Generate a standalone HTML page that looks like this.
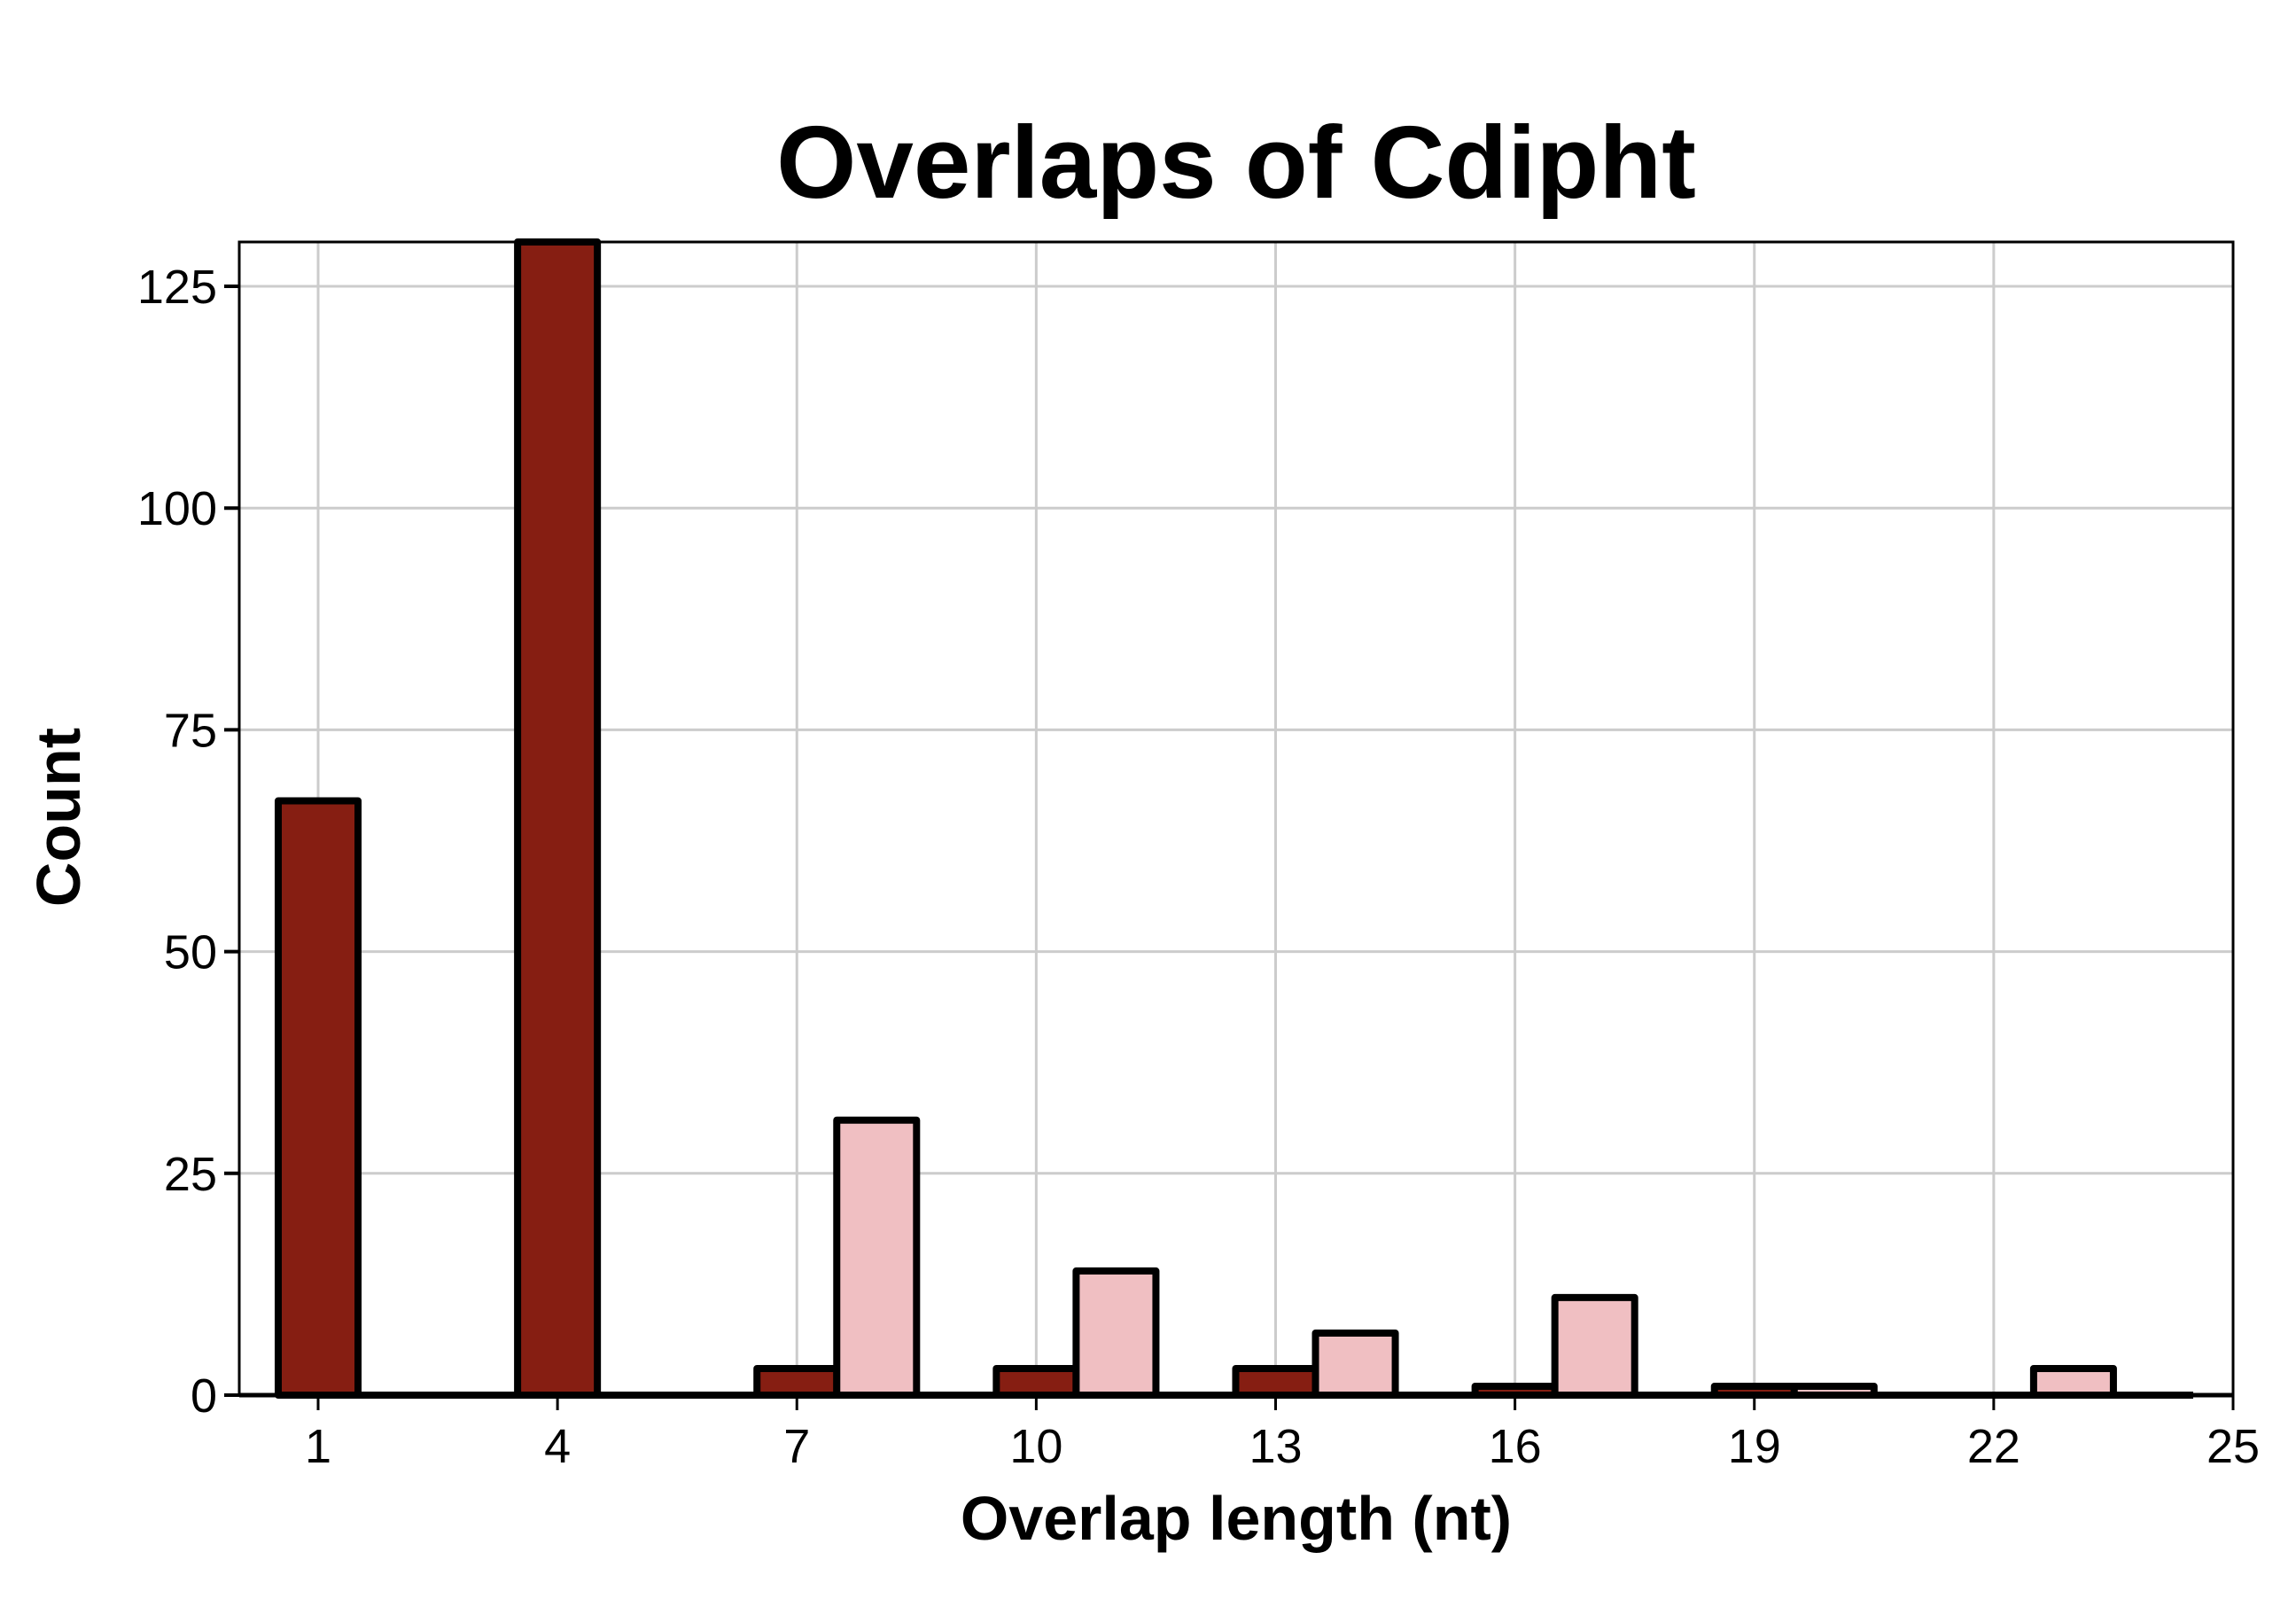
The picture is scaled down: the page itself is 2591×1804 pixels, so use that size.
<!DOCTYPE html>
<html><head><meta charset="utf-8"><style>
html,body{margin:0;padding:0;background:#fff;}
svg{display:block;font-family:"Liberation Sans",Arial,sans-serif;}
</style></head><body>
<svg id="chart" width="2591" height="1804" viewBox="0 0 2591 1804" xmlns="http://www.w3.org/2000/svg">
<rect width="2591" height="1804" fill="#fff"/>
<text x="1395" y="223" text-anchor="middle" font-size="116" font-weight="bold">Overlaps of Cdipht</text>
<text x="1395" y="1737" text-anchor="middle" font-size="70" font-weight="bold">Overlap length (nt)</text>
<text transform="translate(90,922) rotate(-90)" text-anchor="middle" font-size="70" font-weight="bold">Count</text>
<g id="grid"></g>
<g id="bars"></g>
<g id="axes"></g>
</svg>
<script>
const darkBins = [1, 4, 7, 10, 13, 16, 19];
const darkCounts = [67, 130, 3, 3, 3, 1, 1];
const pinkBins = [8, 11, 14, 17, 20, 23];
const pinkCounts = [31, 14, 7, 11, 1, 3];
const xTicks = [1, 4, 7, 10, 13, 16, 19, 22, 25];
const yTicks = [0, 25, 50, 75, 100, 125];

const L = 270, R = 2520, T = 273, B = 1574;
const X0 = 1, X1 = 25, Y0 = 0, Y1 = 130;
const x = v => 359 + (v - X0) * (R - 359) / (X1 - X0);
const y = v => B - (v - Y0) * (B - T) / (Y1 - Y0);
const NS = "http://www.w3.org/2000/svg";
function mk(tag, attrs, parent) {
  const e = document.createElementNS(NS, tag);
  for (const k in attrs) e.setAttribute(k, attrs[k]);
  parent.appendChild(e);
  return e;
}
const grid = document.getElementById('grid');
const bars = document.getElementById('bars');
const axes = document.getElementById('axes');

xTicks.forEach(t => {
  const g = mk('line', {x1: x(t), x2: x(t), y1: T, y2: B, stroke: '#cccccc', 'stroke-width': 3}, grid);
  
  
});
yTicks.forEach(t => {
  const g = mk('line', {x1: L, x2: R, y1: y(t), y2: y(t), stroke: '#cccccc', 'stroke-width': 3}, grid);
  
  
});

const base = mk('line', {x1: x(0.5), x2: x(24.5), y1: y(0), y2: y(0), stroke: '#000', 'stroke-width': 8}, bars);



function drawBars(bins, counts, fill, name) {
  bins.forEach((b, i) => {
    const v = Math.min(counts[i], Y1);
    const yt = y(v);
    const r = mk('rect', {x: x(b - 0.5), y: yt, width: x(b + 0.5) - x(b - 0.5), height: Math.max(y(0) - yt, 0),
      fill: fill, stroke: '#000', 'stroke-width': 8, 'stroke-linejoin': 'round'}, bars);
    
    
  });
}
drawBars(darkBins, darkCounts, '#861e12', 'dark-bar');
drawBars(pinkBins, pinkCounts, '#f0bfc2', 'pink-bar');

const frame = mk('rect', {x: L, y: T, width: R - L, height: B - T, fill: 'none', stroke: '#000', 'stroke-width': 3}, axes);


const xl = mk('line', {x1: L, x2: R, y1: B, y2: B, stroke: '#000', 'stroke-width': 5}, axes);



xTicks.forEach(t => {
  const tk = mk('line', {x1: x(t), x2: x(t), y1: B, y2: B + 17, stroke: '#000', 'stroke-width': 3}, axes);
  
  
  const tx = mk('text', {x: x(t), y: B + 76, 'text-anchor': 'middle', 'font-size': 54}, axes);
  tx.textContent = t;
  
  
});
yTicks.forEach(t => {
  const tk = mk('line', {x1: L - 17, x2: L, y1: y(t), y2: y(t), stroke: '#000', 'stroke-width': 4}, axes);
  
  
  const tx = mk('text', {x: L - 25, y: y(t) + 19, 'text-anchor': 'end', 'font-size': 54}, axes);
  tx.textContent = t;
  
  
});
</script>
</body></html>
